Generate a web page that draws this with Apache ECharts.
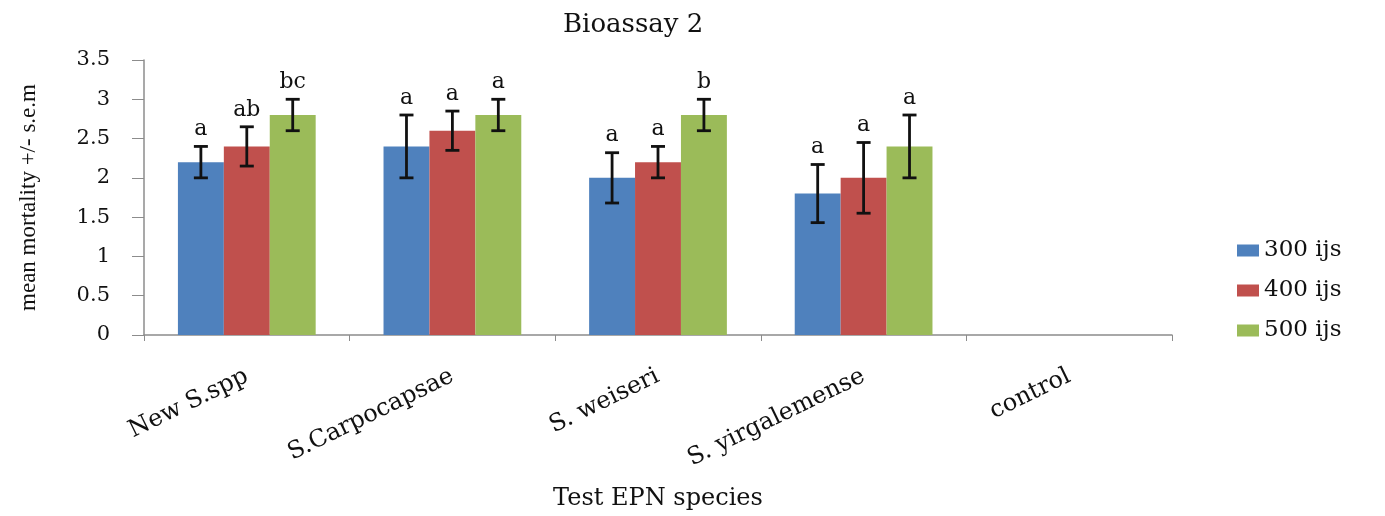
<!DOCTYPE html>
<html>
<head>
<meta charset="utf-8">
<title>Bioassay 2</title>
<script src="https://cdn.jsdelivr.net/npm/echarts@6/dist/echarts.min.js"></script>
<style>
  html, body { margin: 0; padding: 0; background: #fff; }
  #chart { width: 1385px; height: 516px; }
</style>
</head>
<body>
<div id="chart"></div>
<script>
// data
const categories = ['New S.spp', 'S.Carpocapsae', 'S. weiseri', 'S. yirgalemense', 'control'];
const seriesNames = ['300 ijs', '400 ijs', '500 ijs'];

const mean300 = [2.2, 2.4, 2.0, 1.8, 0];
const mean400 = [2.4, 2.6, 2.2, 2.0, 0];
const mean500 = [2.8, 2.8, 2.8, 2.4, 0];

const sem300 = [0.2, 0.4, 0.32, 0.37, 0];
const sem400 = [0.25, 0.25, 0.2, 0.45, 0];
const sem500 = [0.2, 0.2, 0.2, 0.4, 0];

const letters300 = ['a', 'a', 'a', 'a', ''];
const letters400 = ['ab', 'a', 'a', 'a', ''];
const letters500 = ['bc', 'a', 'b', 'a', ''];

const colors = ['#4F81BD', '#C0504D', '#9BBB59'];
const serif = 'DejaVu Serif';
const categoryGap = 0.33; // share of a category left empty

const means = [mean300, mean400, mean500];
const sems = [sem300, sem400, sem500];
const letters = [letters300, letters400, letters500];

const chart = echarts.init(document.getElementById('chart'));

// error bar + letter for series s
function errorSeries(s) {
  return {
    type: 'custom',
    z: 5,
    silent: true,
    data: categories.map((c, i) => [i, means[s][i], sems[s][i]]),
    renderItem: function (params, api) {
      const idx = api.value(0);
      const mean = api.value(1);
      const sem = api.value(2);
      if (!sem) return;
      const band = api.size([1, 0])[0];
      const barW = band * (1 - categoryGap) / 3;
      const x = api.coord([idx, 0])[0] + (s - 1) * barW;
      const top = api.coord([idx, mean + sem])[1];
      const bot = api.coord([idx, mean - sem])[1];
      const cap = 7;
      const style = { stroke: '#111', lineWidth: 2.8 };
      return {
        type: 'group',
        children: [
          { type: 'line', shape: { x1: x, y1: top, x2: x, y2: bot }, style: style },
          { type: 'line', shape: { x1: x - cap, y1: top, x2: x + cap, y2: top }, style: style },
          { type: 'line', shape: { x1: x - cap, y1: bot, x2: x + cap, y2: bot }, style: style },
          {
            type: 'text',
            x: x,
            y: top - 6,
            style: {
              text: letters[s][params.dataIndex],
              fontFamily: serif,
              fontSize: 22,
              fill: '#111',
              align: 'center',
              verticalAlign: 'bottom'
            }
          }
        ]
      };
    }
  };
}

const barSeries = seriesNames.map((name, s) => ({
  name: name,
  type: 'bar',
  data: means[s],
  barGap: '0%',
  barCategoryGap: (categoryGap * 100) + '%',
  itemStyle: { color: colors[s] }
}));

chart.setOption({
  animation: false,
  title: {
    text: 'Bioassay 2',
    left: 558,
    top: 7,
    textStyle: { fontFamily: serif, fontSize: 26, fontWeight: 'normal', color: '#111' }
  },
  legend: {
    data: seriesNames,
    orient: 'vertical',
    left: 1232,
    top: 234,
    itemWidth: 22,
    itemHeight: 12,
    itemGap: 17,
    icon: 'rect',
    textStyle: { fontFamily: serif, fontSize: 23, color: '#111' }
  },
  grid: { left: 144, right: 213, top: 60, bottom: 169 },
  xAxis: {
    type: 'category',
    data: categories,
    name: 'Test EPN species',
    nameLocation: 'middle',
    nameGap: 152,
    nameTextStyle: { fontFamily: serif, fontSize: 24, color: '#111' },
    axisLine: { lineStyle: { color: '#8c8c8c', width: 1.5 } },
    axisTick: { show: true, length: 6, lineStyle: { color: '#8c8c8c' } },
    axisLabel: {
      rotate: 26,
      margin: 40,
      interval: 0,
      fontFamily: serif,
      fontSize: 24,
      color: '#111'
    }
  },
  yAxis: {
    type: 'value',
    min: 0,
    max: 3.5,
    interval: 0.5,
    name: 'mean mortality +/- s.e.m',
    nameLocation: 'middle',
    nameRotate: 90,
    nameGap: 104,
    nameTextStyle: { fontFamily: 'Liberation Serif', fontSize: 23, color: '#111' },
    axisLine: { show: true, lineStyle: { color: '#8c8c8c', width: 1.5 } },
    axisTick: { show: true, length: 12, lineStyle: { color: '#8c8c8c' } },
    splitLine: { show: false },
    axisLabel: { margin: 34, fontFamily: serif, fontSize: 21, color: '#111' }
  },
  series: barSeries.concat([errorSeries(0), errorSeries(1), errorSeries(2)])
});
</script>
</body>
</html>
